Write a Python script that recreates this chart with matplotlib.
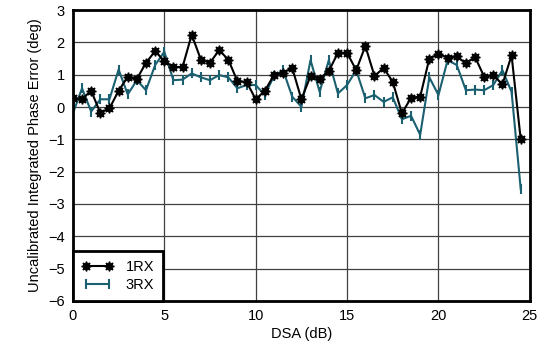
import matplotlib
matplotlib.use("Agg")
import matplotlib.pyplot as plt

plt.rcParams['font.family'] = ['Liberation Sans', 'DejaVu Sans']

# DSA setting in 0.5 dB steps
dsa = [i * 0.5 for i in range(50)]

# phase error (deg)
rx1 = [0.27, 0.25, 0.50, -0.18, -0.04, 0.50, 0.94, 0.87, 1.37, 1.73,
       1.42, 1.24, 1.24, 2.24, 1.47, 1.37, 1.76, 1.47, 0.80, 0.78,
       0.24, 0.50, 0.99, 1.06, 1.21, 0.24, 0.96, 0.88, 1.11, 1.68,
       1.68, 1.14, 1.89, 0.96, 1.21, 0.78, -0.20, 0.29, 0.32, 1.50,
       1.64, 1.53, 1.57, 1.35, 1.55, 0.94, 0.99, 0.70, 1.60, -1.00]
rx3 = [-0.20, 0.58, -0.14, 0.24, 0.24, 1.16, 0.39, 0.83, 0.52, 1.30,
       1.71, 0.83, 0.85, 1.04, 0.92, 0.83, 0.99, 0.92, 0.58, 0.68,
       0.68, 0.37, 0.96, 1.14, 0.32, 0.01, 1.45, 0.47, 1.45, 0.42,
       0.68, 1.14, 0.27, 0.37, 0.16, 0.30, -0.38, -0.27, -0.86, 0.92,
       0.37, 1.45, 1.30, 0.52, 0.54, 0.52, 0.68, 1.14, 0.47, -2.54]

fig = plt.figure(figsize=(5.44, 3.49), dpi=100)
ax = fig.add_axes([0.134, 0.138, 0.840, 0.833])

ax.plot(dsa, rx1, color='black', lw=1.5, marker=(8, 1, 0), ms=7,
        label='1RX', zorder=3)
ax.plot(dsa, rx3, color='#1b6070', lw=1.5, marker='|', ms=7, mew=1.5,
        label='3RX', zorder=2)

ax.set_xlim(0, 25)
ax.set_ylim(-6, 3)
ax.set_xticks(range(0, 26, 5))
ax.set_yticks(range(-6, 4))
ax.grid(True, color='#404040', lw=0.9)
ax.tick_params(length=0, labelsize=10.5, pad=6)
for s in ax.spines.values():
    s.set_linewidth(2)
    s.set_color('black')

ax.set_xlabel('DSA (dB)', fontsize=10.5, labelpad=3)
ax.set_ylabel('Uncalibrated Integrated Phase Error (deg)', fontsize=10.5, labelpad=4)

leg = ax.legend(loc='lower left', bbox_to_anchor=(0, 0), fontsize=10.5,
                fancybox=False, framealpha=1, edgecolor='black',
                borderaxespad=0, numpoints=2, handlelength=2.2,
                handletextpad=0.8, borderpad=0.6, labelspacing=0.3)
leg.get_frame().set_linewidth(2)

fig.savefig('out.png', dpi=100)
